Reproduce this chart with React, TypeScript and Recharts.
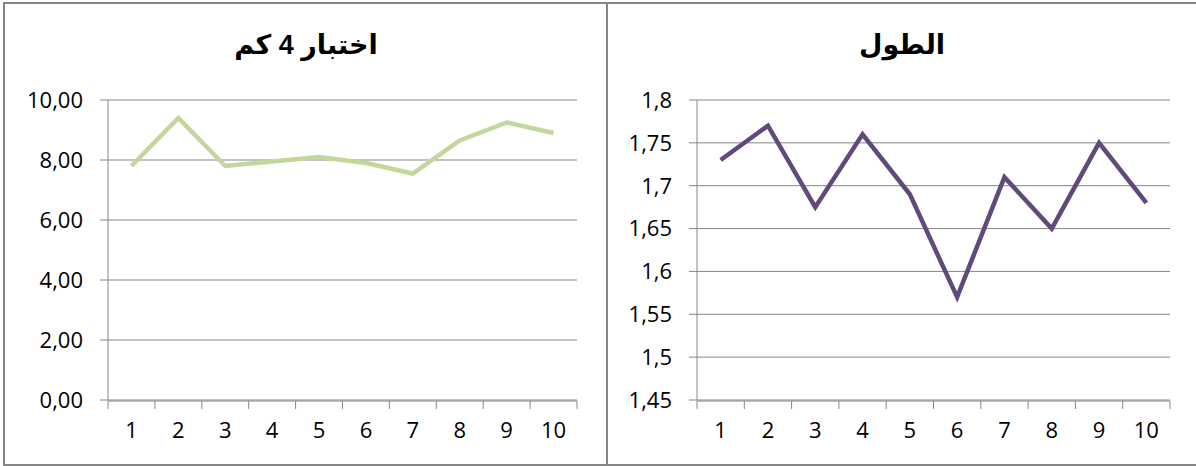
import React from 'react';
import { LineChart, Line, XAxis, YAxis, CartesianGrid } from 'recharts';

// category labels along the bottom of both charts
const categories = [1, 2, 3, 4, 5, 6, 7, 8, 9, 10];

// اختبار 4 كم
const runValues = [7.8, 9.4, 7.8, 7.95, 8.1, 7.9, 7.55, 8.65, 9.25, 8.9];
const runTicks = [0, 2, 4, 6, 8, 10];

// الطول
const heightValues = [1.73, 1.77, 1.675, 1.76, 1.69, 1.57, 1.71, 1.65, 1.75, 1.68];
const heightTicks = [1.45, 1.5, 1.55, 1.6, 1.65, 1.7, 1.75, 1.8];

const gray = '#868686';
const tickFont = { fill: '#000', fontSize: 22, fontFamily: '"Open Sans", sans-serif' };
const titleFont = '"Liberation Sans", "DejaVu Sans", Arial, sans-serif';

const boundaries = [...categories.map((c) => c - 0.5), categories[categories.length - 1] + 0.5];

interface PanelProps {
  title: string;
  values: number[];
  ticks: number[];
  color: string;
  width: number;
  axisWidth: number;
  rightGap: number;
  fmt: (v: number) => string;
}

const Panel: React.FC<PanelProps> = ({ title, values, ticks, color, width, axisWidth, rightGap, fmt }) => {
  const data = categories.map((c, i) => ({ x: c, v: values[i] }));
  const domain: [number, number] = [boundaries[0], boundaries[boundaries.length - 1]];
  return (
    <div style={{ position: 'relative', width, height: 466 }}>
      <div style={{
        position: 'absolute', top: 28, left: 0, width, textAlign: 'center',
        fontFamily: titleFont, fontWeight: 'bold', fontSize: 27, lineHeight: '34px', direction: 'rtl',
      }}>
        {title}
      </div>
      <LineChart width={width} height={466} data={data} margin={{ top: 100, right: rightGap, left: 0, bottom: 64 }}>
        <CartesianGrid vertical={false} stroke={gray} />
        <XAxis xAxisId="mark" dataKey="x" type="number" domain={domain} ticks={boundaries} height={1}
          tickFormatter={() => ''} tickSize={8} tickLine={{ stroke: gray }} axisLine={{ stroke: gray }} interval={0} />
        <XAxis xAxisId="lab" dataKey="x" type="number" domain={domain} ticks={categories} height={1}
          tickLine={false} axisLine={false} tickSize={8} tickMargin={14} tick={tickFont} interval={0} />
        <YAxis type="number" domain={[ticks[0], ticks[ticks.length - 1]]} ticks={ticks} width={axisWidth}
          tickSize={8} tickMargin={17} tickLine={{ stroke: gray }} axisLine={{ stroke: gray }}
          tick={tickFont} tickFormatter={fmt} interval={0} />
        <Line xAxisId="lab" dataKey="v" type="linear" stroke={color} strokeWidth={4.5} dot={false}
          isAnimationActive={false} />
      </LineChart>
    </div>
  );
};

export default function App() {
  return (
    <div style={{ position: 'absolute', left: 0, top: 0, width: 1196, height: 466, background: '#fff', overflow: 'hidden' }}>
      <div style={{ position: 'absolute', left: 3, top: 2, width: 601, height: 460, border: `2px solid ${gray}` }} />
      <div style={{ position: 'absolute', left: 606, top: 2, width: 600, height: 460, border: `2px solid ${gray}` }} />
      <div style={{ position: 'absolute', left: 6, top: 0 }}>
        <Panel title="اختبار 4 كم" values={runValues} ticks={runTicks} color="#C3D69B" width={600}
          axisWidth={102} rightGap={29} fmt={(v) => v.toFixed(2).replace('.', ',')} />
      </div>
      <div style={{ position: 'absolute', left: 608, top: 0 }}>
        <Panel title="الطول" values={heightValues} ticks={heightTicks} color="#604A7B" width={588}
          axisWidth={89} rightGap={26} fmt={(v) => String(v).replace('.', ',')} />
      </div>
    </div>
  );
}
